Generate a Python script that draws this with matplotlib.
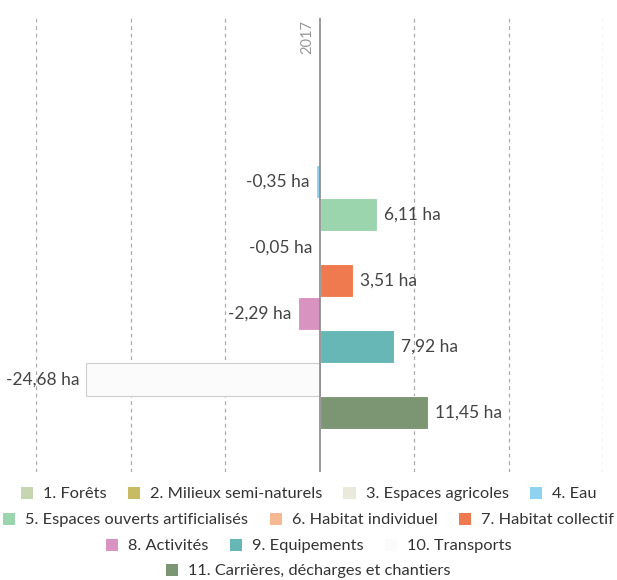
import matplotlib.pyplot as plt
from matplotlib.patches import Patch
import numpy as np

plt.rcParams['font.family'] = ['Lato', 'DejaVu Sans']

category = "2017"
series_names = [
    "1. Forêts", "2. Milieux semi-naturels", "3. Espaces agricoles", "4. Eau",
    "5. Espaces ouverts artificialisés", "6. Habitat individuel", "7. Habitat collectif",
    "8. Activités", "9. Equipements", "10. Transports",
    "11. Carrières, décharges et chantiers",
]
values = [None, None, None, -0.35, 6.11, -0.05, 3.51, -2.29, 7.92, -24.68, 11.45]
colors = [
    "#c5d6b1", "#c9bb63", "#e9e9dc", "#8fd3f0", "#9bd5ad", "#f6b893",
    "#f07a50", "#d993c1", "#66b7b6", "#fbfbfb", "#7c9573",
]
legend_rows = [[0, 1, 2, 3], [4, 5, 6], [7, 8, 9], [10]]

W, H = 617, 580
fig = plt.figure(figsize=(W / 100, H / 100), dpi=100)
ax = fig.add_axes([36 / W, (H - 472) / H, (603 - 36) / W, (472 - 18) / H])

n = len(values)
slot = 0.8 / n
for i, (v, c) in enumerate(zip(values, colors)):
    if v is None:
        continue
    y = (i - (n - 1) / 2) * slot + 0.005
    edge = "#cccccc" if i == 9 else "white"
    ax.barh(y, v, height=slot, color=c, edgecolor=edge, linewidth=0.8, zorder=3)
    label = f"{v:.2f}".replace(".", ",") + " ha"
    if v >= 0:
        ax.annotate(label, (v, y), xytext=(5, 0), textcoords="offset points",
                    ha="left", va="center", fontsize=12.5, color="#444444", zorder=4)
    else:
        ax.annotate(label, (v, y), xytext=(-5, 0), textcoords="offset points",
                    ha="right", va="center", fontsize=12.5, color="#444444", zorder=4)

ax.set_xlim(-30, 30)
ax.set_ylim(0.5, -0.5)
for gx in [-30, -20, -10, 10, 20, 30]:
    ax.axvline(gx, color="#aaaaaa", linestyle=(0, (3, 3)), linewidth=0.9, zorder=1)
ax.axvline(0, color="#888888", linewidth=1.2, zorder=5)
ax.text(-0.6, -0.495, category, rotation=90, ha="right", va="top",
        fontsize=10.5, color="#999999")

ax.set_xticks([])
ax.set_yticks([])
for s in ax.spines.values():
    s.set_visible(False)

row_y = [494, 520, 546, 571]
for row, yy in zip(legend_rows, row_y):
    handles = [Patch(facecolor=colors[i], edgecolor="none") for i in row]
    labels = [series_names[i] for i in row]
    fig.legend(handles, labels, loc="center", bbox_to_anchor=(0.5, 1 - yy / H),
               ncol=len(row), frameon=False, fontsize=11.8, handlelength=0.75,
               handleheight=0.75, handletextpad=0.6, columnspacing=1.3,
               labelcolor="#333333", borderpad=0)

fig.savefig("out.png", dpi=100, facecolor="white")
